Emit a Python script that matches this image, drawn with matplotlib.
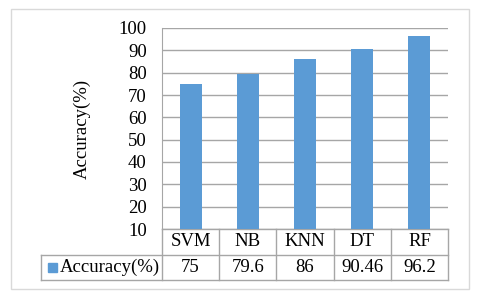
import matplotlib.pyplot as plt
from matplotlib.patches import Rectangle
import matplotlib.transforms as mtransforms

models = ['SVM', 'NB', 'KNN', 'DT', 'RF']
accuracy = [75, 79.6, 86, 90.46, 96.2]
acc_labels = ['75', '79.6', '86', '90.46', '96.2']
series_name = 'Accuracy(%)'
yticks = list(range(10, 101, 10))

plt.rcParams['font.family'] = ['Liberation Serif', 'DejaVu Serif']
blue = '#5B9BD5'
grid_c = '#A6A6A6'
fs = 13.5

W, H = 480, 301
fig = plt.figure(figsize=(4.8, 3.01), dpi=100)
# plot area in pixels: left 162, right 448, top 28, bottom 229
ax = fig.add_axes([162 / W, 1 - 229 / H, (448 - 162) / W, (229 - 28) / H])

x = list(range(len(models)))
ax.bar(x, [a - 10 for a in accuracy], bottom=10, width=0.385, color=blue, zorder=3)
ax.set_xlim(-0.5, len(models) - 0.5)
ax.set_ylim(10, 100)
ax.set_yticks(yticks)
ax.set_yticklabels([str(t) for t in yticks], fontsize=fs)
ax.tick_params(axis='y', length=0, pad=11)
ax.set_xticks([])
ax.grid(axis='y', color=grid_c, lw=1, zorder=0)
for s in ['top', 'right', 'bottom']:
    ax.spines[s].set_visible(False)
ax.spines['left'].set_color(grid_c)
ax.set_ylabel(series_name, fontsize=fs, va='center')
ax.yaxis.set_label_coords((82 - 162) / (448 - 162), 0.5)

# data table under the plot
tr = mtransforms.blended_transform_factory(ax.transData, ax.transAxes)
ah = 229 - 28
r1 = -26 / ah
r2 = -51 / ah
colw = (448 - 162) / len(models)
xl = -0.5 - (162 - 41) / colw
xr = len(models) - 0.5
kw = dict(color=grid_c, lw=1, transform=tr, clip_on=False)
ax.plot([-0.5, xr], [0, 0], **kw)
ax.plot([xl, xr], [r1, r1], **kw)
ax.plot([xl, xr], [r2, r2], **kw)
ax.plot([xl, xl], [r1, r2], **kw)
for i in range(len(models) + 1):
    ax.plot([i - 0.5, i - 0.5], [0, r2], **kw)
for i, m in enumerate(models):
    ax.text(i, r1 / 2, m, ha='center', va='center', fontsize=fs, transform=tr)
    ax.text(i, (r1 + r2) / 2, acc_labels[i], ha='center', va='center', fontsize=fs, transform=tr)
ax.text(-0.5 - (162 - 60) / colw, (r1 + r2) / 2, series_name, ha='left', va='center',
        fontsize=fs, transform=tr)
fig.patches.append(Rectangle((48 / W, 1 - 272 / H), 9 / W, 9 / H, color=blue,
                             transform=fig.transFigure))

# chart border
fig.patches.append(Rectangle((11 / W, 1 - 289 / H), 458 / W, 280 / H, fill=False,
                             edgecolor='#D9D9D9', lw=1, transform=fig.transFigure))

fig.savefig('out.png', dpi=100)
